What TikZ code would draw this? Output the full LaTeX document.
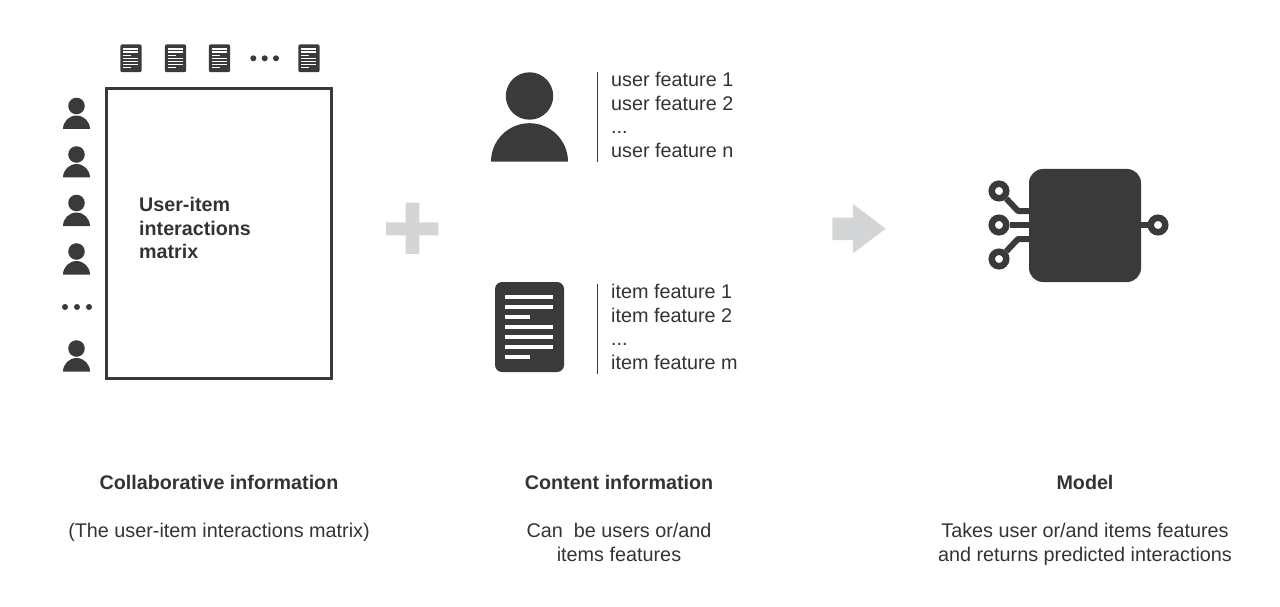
\documentclass[tikz,border=0pt]{standalone}
\usepackage{fontspec}
\setmainfont{Liberation Sans}
\usetikzlibrary{positioning, arrows.meta}
\definecolor{darkicon}{HTML}{3A3A3A}
\definecolor{darktext}{HTML}{333333}
\definecolor{lightsign}{HTML}{D4D5D6}
\tikzset{
  labeltext/.style={anchor=base west, inner sep=0pt, yshift=-0.8pt, text=darktext, font=\fontsize{19.8}{22}\selectfont},
  captiontext/.style={anchor=base, inner sep=0pt, yshift=-0.8pt, text=darktext, font=\fontsize{19.8}{22}\selectfont},
  headtext/.style={captiontext, font=\fontsize{19.7}{22}\selectfont\bfseries},
  matrixtext/.style={labeltext, font=\fontsize{19.7}{22}\selectfont\bfseries},
  dotnode/.style={circle, fill=darkicon, inner sep=0pt, minimum size=6pt},
  pinnode/.style={circle, draw=darkicon, line width=6.5pt, fill=white, inner sep=0pt, minimum size=14.5pt},
  wire/.style={draw=darkicon, line width=6pt, line join=round},
  personicon/.pic={
    \fill[darkicon] (0,-65.7) circle (23.7);
    \fill[darkicon] (-38.5,0) arc (180:360:38.5) -- cycle;
  },
  docicon/.pic={
    \fill[darkicon] (-34.5,-45) rectangle (34.5,45);
    \foreach \ypos/\xend in {-30/23.5, -20/23.5, -10/0.5, 0/23.5, 10/23.5, 20/23.5, 30/0} {
      \fill[white, sharp corners] (-24.5,\ypos-2) rectangle (\xend,\ypos+2);
    }
  }
}
\begin{document}
\begin{tikzpicture}[x=1pt, y=-1pt]
  \useasboundingbox (0,0) rectangle (1280,607);

  % matrix
  \node[draw=darkicon, line width=3pt, minimum width=225pt, minimum height=290pt, inner sep=0pt] (matrix) at (219,233.5) {};
  \node[matrixtext] (matrixa) at (139,211) {User-item};
  \node[matrixtext] (matrixb) at (139,235) {interactions};
  \node[matrixtext] (matrixc) at (139,258) {matrix};

  \foreach \xpos in {131,175.5,219.5,309} {
    \pic[scale=0.31, rounded corners=2pt] at (\xpos,58.3) {docicon};
  }
  \foreach \xpos [count=\i] in {253.3,264.7,276} {
    \node[dotnode] (topdot\i) at (\xpos,58.3) {};
  }
  \foreach \ypos in {129,177.5,226,274.5,371.5} {
    \pic[scale=0.35] at (76.5,\ypos) {personicon};
  }
  \foreach \xpos [count=\i] in {65,77,89} {
    \node[dotnode] (leftdot\i) at (\xpos,307) {};
  }

  % plus and arrow
  \fill[lightsign] (405.7,202.7) -- (419.3,202.7) -- (419.3,222.3) -- (438.3,222.3) -- (438.3,235.3) -- (419.3,235.3) -- (419.3,254) -- (405.7,254) -- (405.7,235.3) -- (386,235.3) -- (386,222.3) -- (405.7,222.3) -- cycle;
  \fill[lightsign] (832.3,217.7) -- (853,217.7) -- (853,204) -- (885.7,228.7) -- (853,253.3) -- (853,240) -- (832.3,240) -- cycle;

  % content
  \pic at (529.5,161.7) {personicon};
  \pic[rounded corners=7pt] at (529.5,327) {docicon};
  \coordinate (usertop) at (597.3,72);
  \coordinate (userbot) at (597.3,161.7);
  \coordinate (itemtop) at (597.3,284);
  \coordinate (itembot) at (597.3,373.5);
  \draw[darkicon, line width=1pt] (usertop) -- (userbot);
  \draw[darkicon, line width=1pt] (itemtop) -- (itembot);
  \node[labeltext] (usera) at (611,86) {user feature 1};
  \node[labeltext] (userb) at (611,110) {user feature 2};
  \node[labeltext] (userc) at (611,133) {...};
  \node[labeltext] (userd) at (611,157) {user feature n};
  \node[labeltext] (itema) at (611,298) {item feature 1};
  \node[labeltext] (itemb) at (611,322) {item feature 2};
  \node[labeltext] (itemc) at (611,345) {...};
  \node[labeltext] (itemd) at (611,369) {item feature m};

  % model
  \node[fill=darkicon, rounded corners=14pt, minimum width=112pt, minimum height=113pt, inner sep=0pt] (chip) at (1085,225.5) {};
  \node[pinnode] (pina) at (999,191) {};
  \node[pinnode] (pinb) at (999,225) {};
  \node[pinnode] (pinc) at (999,259) {};
  \node[pinnode] (pind) at (1158,225) {};
  \coordinate (benda) at (1018,211);
  \coordinate (bendc) at (1018,239);
  \draw[wire] (pina) -- (benda) -- (benda -| chip.west);
  \draw[wire] (pinb) -- (pinb -| chip.west);
  \draw[wire] (pinc) -- (bendc) -- (bendc -| chip.west);
  \draw[wire] (pind -| chip.east) -- (pind);

  % captions
  \node[headtext] (collabhead) at (219,489) {Collaborative information};
  \node[captiontext] (collabtext) at (219,537) {(The user-item interactions matrix)};
  \node[headtext] (contenthead) at (619,489) {Content information};
  \node[captiontext] (contenta) at (619,537) {Can\ \ be users or/and};
  \node[captiontext] (contentb) at (619,561) {items features};
  \node[headtext] (modelhead) at (1085,489) {Model};
  \node[captiontext] (modela) at (1085,537) {Takes user or/and items features};
  \node[captiontext] (modelb) at (1085,561) {and returns predicted interactions};
\end{tikzpicture}
\end{document}
